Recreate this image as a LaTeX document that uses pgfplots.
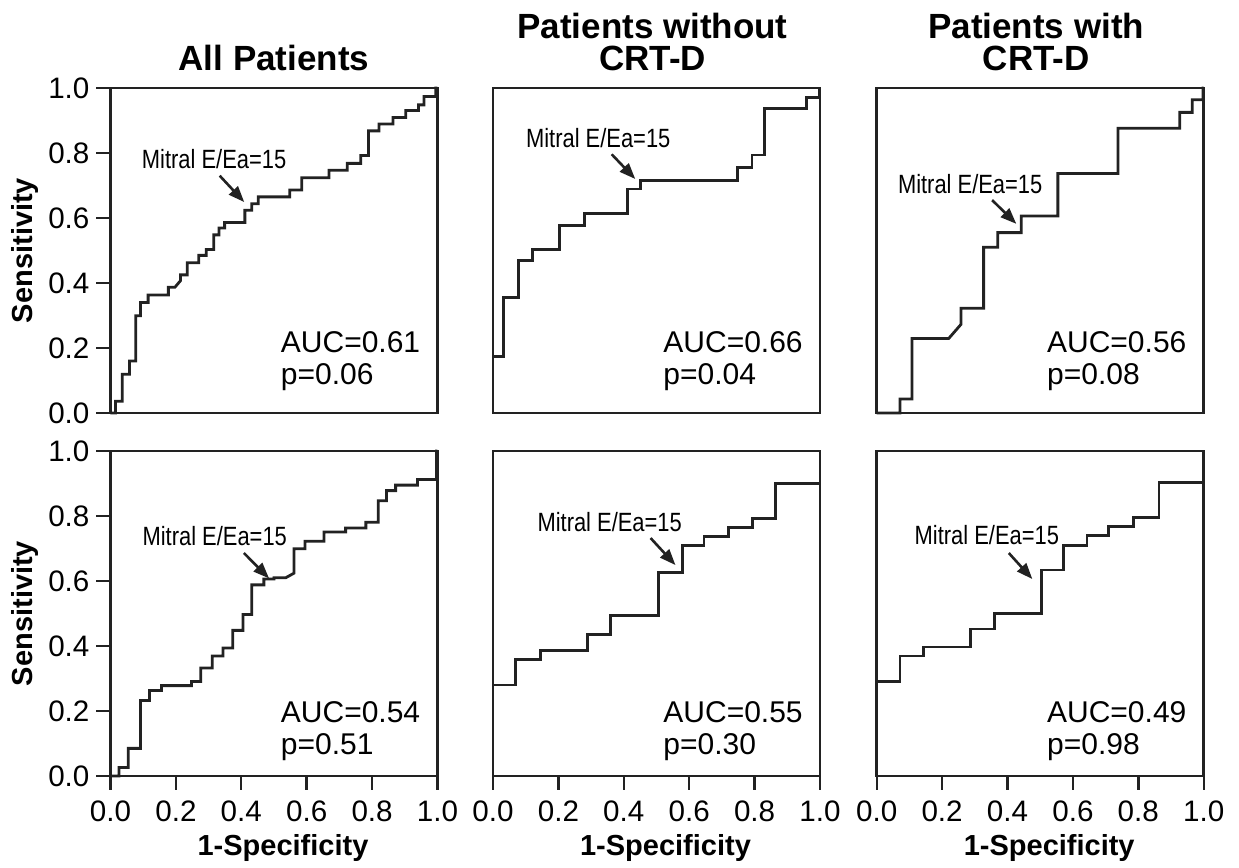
\documentclass[border=0pt]{standalone}
\usepackage{fontspec}
\setmainfont{Liberation Sans}
\usepackage{graphicx}
\usepackage{pgfplots}
\pgfplotsset{compat=1.18}
\usetikzlibrary{arrows.meta}
\definecolor{ln}{HTML}{222222}
\newcommand{\tf}{\fontsize{14.8}{16}\selectfont}
\newcommand{\af}{\fontsize{15}{17}\selectfont}
\newcommand{\lf}{\fontsize{14.5}{16}\selectfont\bfseries}
\newcommand{\ttlf}{\fontsize{17.5}{19}\selectfont\bfseries}
\newcommand{\mf}{\fontsize{13.2}{14}\selectfont}
\tikzset{arr/.style={line width=1.3pt, draw=ln, -{Triangle[length=8pt,width=6pt]}}}
\pgfplotsset{
  rocax/.style={scale only axis, width=163.5pt, height=162.5pt,
    xmin=0, xmax=1, ymin=0, ymax=1, clip=false,
    axis line style={line width=1.4pt, draw=ln},
    tick style={line width=1.2pt, draw=ln},
    major tick length=7pt, tick align=outside,
    xtick pos=bottom, ytick pos=left,
    ticklabel style={font=\tf},
    xticklabel style={yshift=-2pt},
    xtick=\empty, ytick=\empty,
    anchor=south west},
  leftcol/.style={ytick={0,0.2,0.4,0.6,0.8,1}, yticklabels={0.0,0.2,0.4,0.6,0.8,1.0}},
  bottomrow/.style={xtick={0,0.2,0.4,0.6,0.8,1}, xticklabels={0.0,0.2,0.4,0.6,0.8,1.0}},
  roc/.style={line width=1.4pt, draw=ln, mark=none}
}
\newcommand{\ylab}{\node[rotate=90,anchor=base,font=\lf] at ([xshift=-38.75pt]rel axis cs:0,0.5) {Sensitivity};}
\newcommand{\xlab}{\node[anchor=base,font=\lf] at ([yshift=-40pt,xshift=4.5pt]rel axis cs:0.5,0) {1-Specificity};}
\newcommand{\mitral}[2]{\node[anchor=base west,inner sep=0pt] at (axis cs:#1,#2) {\mf\scalebox{0.83}[1]{Mitral E/Ea=15}};}
\newcommand{\auc}[4]{\node[anchor=base west,inner sep=0pt,font=\af] at (axis cs:0.52,#1) {AUC=#3};
  \node[anchor=base west,inner sep=0pt,font=\af] at (axis cs:0.52,#2) {p=#4};}
\begin{document}
\begin{tikzpicture}
\path[use as bounding box] (0,0) rectangle (619.5pt,434pt);
% ---------- top row ----------
\begin{axis}[rocax, leftcol, at={(55.25pt,227.5pt)}]
\addplot[roc] coordinates {(0,0) (0.015,0) (0.015,0.036) (0.036,0.036) (0.036,0.119) (0.058,0.119) (0.058,0.160) (0.077,0.160) (0.077,0.299) (0.092,0.299) (0.092,0.340) (0.115,0.340) (0.115,0.363) (0.177,0.363) (0.177,0.387) (0.197,0.387) (0.214,0.407) (0.214,0.425) (0.235,0.425) (0.235,0.462) (0.270,0.462) (0.270,0.485) (0.293,0.485) (0.293,0.503) (0.316,0.503) (0.316,0.548) (0.332,0.548) (0.332,0.569) (0.349,0.569) (0.349,0.586) (0.411,0.586) (0.411,0.624) (0.432,0.624) (0.432,0.644) (0.452,0.644) (0.452,0.665) (0.548,0.665) (0.548,0.686) (0.585,0.686) (0.585,0.724) (0.668,0.724) (0.668,0.747) (0.724,0.747) (0.724,0.768) (0.765,0.768) (0.765,0.792) (0.789,0.792) (0.789,0.868) (0.821,0.868) (0.821,0.889) (0.864,0.889) (0.864,0.909) (0.903,0.909) (0.903,0.931) (0.942,0.931) (0.942,0.948) (0.959,0.948) (0.959,0.974) (0.995,0.974) (0.995,1) (1,1)};
\draw[arr] (axis cs:0.334,0.730) -- (axis cs:0.409,0.649);
\mitral{0.095}{0.753}
\auc{0.186}{0.088}{0.61}{0.06}
\ylab
\node[anchor=base,font=\ttlf] at ([yshift=8.75pt]rel axis cs:0.5,1) {All Patients};
\end{axis}
\begin{axis}[rocax, at={(246.5pt,227.5pt)}]
\addplot[roc] coordinates {(0,0) (0,0.173) (0.033,0.173) (0.033,0.356) (0.077,0.356) (0.077,0.469) (0.121,0.469) (0.121,0.503) (0.204,0.503) (0.204,0.577) (0.281,0.577) (0.281,0.613) (0.411,0.613) (0.411,0.689) (0.452,0.689) (0.452,0.716) (0.748,0.716) (0.748,0.755) (0.792,0.755) (0.792,0.794) (0.831,0.794) (0.831,0.936) (0.959,0.936) (0.959,0.971) (0.997,0.971) (0.997,1) (1,1)};
\draw[arr] (axis cs:0.363,0.796) -- (axis cs:0.435,0.720);
\mitral{0.100}{0.816}
\auc{0.186}{0.088}{0.66}{0.04}
\node[anchor=base,font=\ttlf] at ([yshift=24.75pt,xshift=-2pt]rel axis cs:0.5,1) {Patients without};
\node[anchor=base,font=\ttlf] at ([yshift=8.75pt,xshift=-2pt]rel axis cs:0.5,1) {CRT-D};
\end{axis}
\begin{axis}[rocax, at={(438.35pt,227.5pt)}]
\addplot[roc] coordinates {(0,0) (0.071,0) (0.071,0.043) (0.108,0.043) (0.108,0.229) (0.220,0.229) (0.258,0.273) (0.258,0.322) (0.327,0.322) (0.327,0.510) (0.370,0.510) (0.370,0.555) (0.442,0.555) (0.442,0.606) (0.554,0.606) (0.554,0.737) (0.738,0.737) (0.738,0.876) (0.927,0.876) (0.927,0.925) (0.965,0.925) (0.965,0.964) (0.998,0.964) (0.998,1) (1,1)};
\draw[arr] (axis cs:0.353,0.655) -- (axis cs:0.427,0.582);
\mitral{0.064}{0.675}
\auc{0.186}{0.088}{0.56}{0.08}
\node[anchor=base,font=\ttlf] at ([yshift=24.75pt,xshift=-2pt]rel axis cs:0.5,1) {Patients with};
\node[anchor=base,font=\ttlf] at ([yshift=8.75pt,xshift=-2pt]rel axis cs:0.5,1) {CRT-D};
\end{axis}
% ---------- bottom row ----------
\begin{axis}[rocax, leftcol, bottomrow, at={(55.25pt,46pt)}]
\addplot[roc] coordinates {(0,0) (0.026,0) (0.026,0.026) (0.054,0.026) (0.054,0.085) (0.092,0.085) (0.092,0.232) (0.119,0.232) (0.119,0.263) (0.156,0.263) (0.156,0.278) (0.248,0.278) (0.248,0.291) (0.276,0.291) (0.276,0.332) (0.311,0.332) (0.311,0.369) (0.344,0.369) (0.344,0.394) (0.374,0.394) (0.374,0.448) (0.405,0.448) (0.405,0.497) (0.432,0.497) (0.432,0.588) (0.469,0.588) (0.469,0.606) (0.500,0.606) (0.500,0.610) (0.536,0.610) (0.561,0.624) (0.561,0.699) (0.595,0.699) (0.595,0.722) (0.653,0.722) (0.653,0.751) (0.719,0.751) (0.719,0.763) (0.781,0.763) (0.781,0.781) (0.819,0.781) (0.819,0.847) (0.844,0.847) (0.844,0.878) (0.872,0.878) (0.872,0.895) (0.939,0.895) (0.939,0.912) (0.997,0.912) (0.997,1) (1,1)};
\draw[arr] (axis cs:0.408,0.686) -- (axis cs:0.485,0.608);
\mitral{0.097}{0.709}
\auc{0.165}{0.067}{0.54}{0.51}
\ylab
\xlab
\end{axis}
\begin{axis}[rocax, bottomrow, at={(246.5pt,46pt)}]
\addplot[roc] coordinates {(0,0) (0,0.280) (0.068,0.280) (0.068,0.359) (0.145,0.359) (0.145,0.387) (0.288,0.387) (0.288,0.435) (0.359,0.435) (0.359,0.493) (0.507,0.493) (0.507,0.627) (0.579,0.627) (0.579,0.709) (0.645,0.709) (0.645,0.737) (0.721,0.737) (0.721,0.765) (0.793,0.765) (0.793,0.792) (0.864,0.792) (0.864,0.899) (1,0.899) (1,1)};
\draw[arr] (axis cs:0.482,0.732) -- (axis cs:0.558,0.649);
\mitral{0.135}{0.751}
\auc{0.165}{0.067}{0.55}{0.30}
\xlab
\end{axis}
\begin{axis}[rocax, bottomrow, at={(438.35pt,46pt)}]
\addplot[roc] coordinates {(0,0) (0,0.291) (0.071,0.291) (0.071,0.369) (0.143,0.369) (0.143,0.397) (0.286,0.397) (0.286,0.452) (0.360,0.452) (0.360,0.500) (0.503,0.500) (0.503,0.634) (0.571,0.634) (0.571,0.709) (0.643,0.709) (0.643,0.740) (0.710,0.740) (0.710,0.768) (0.786,0.768) (0.786,0.796) (0.863,0.796) (0.863,0.902) (1,0.902) (1,1)};
\draw[arr] (axis cs:0.404,0.686) -- (axis cs:0.476,0.606);
\mitral{0.115}{0.713}
\auc{0.165}{0.067}{0.49}{0.98}
\xlab
\end{axis}
\end{tikzpicture}
\end{document}
